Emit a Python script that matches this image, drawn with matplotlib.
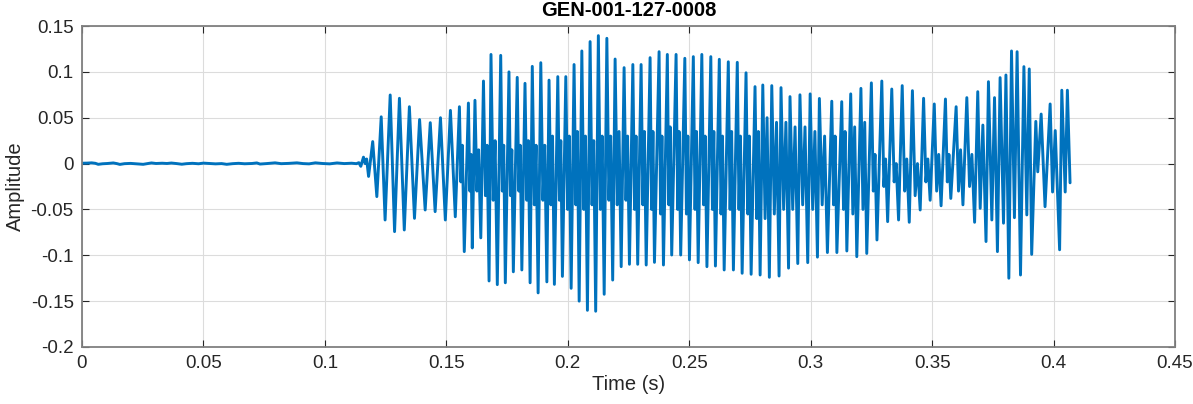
import numpy as np
import matplotlib
matplotlib.use("Agg")
import matplotlib.pyplot as plt

plt.rcParams['font.family'] = ['Liberation Sans', 'DejaVu Sans']
plt.rcParams['axes.unicode_minus'] = False

title = "GEN-001-127-0008"
xlabel = "Time (s)"
ylabel = "Amplitude"
xticks = [0, 0.05, 0.1, 0.15, 0.2, 0.25, 0.3, 0.35, 0.4, 0.45]
xticklabels = ["0", "0.05", "0.1", "0.15", "0.2", "0.25", "0.3", "0.35", "0.4", "0.45"]
yticks = [-0.2, -0.15, -0.1, -0.05, 0, 0.05, 0.1, 0.15]
yticklabels = ["-0.2", "-0.15", "-0.1", "-0.05", "0", "0.05", "0.1", "0.15"]

# silence / noise floor
noise_t = [0.000, 0.002, 0.004, 0.0055, 0.0067, 0.0085, 0.0105, 0.0129, 0.0145, 0.0156,
           0.0175, 0.0200, 0.0225, 0.0252, 0.0270, 0.0286, 0.0305, 0.0330, 0.0350, 0.0368,
           0.0390, 0.0411, 0.0430, 0.0455, 0.0480, 0.0500, 0.0525, 0.0550, 0.0575, 0.0596,
           0.0620, 0.0645, 0.0670, 0.0700, 0.0720, 0.0733, 0.0760, 0.0795, 0.0820, 0.0850,
           0.0885, 0.0910, 0.0935, 0.0961, 0.0990, 0.1020, 0.1050, 0.1080, 0.1110, 0.1130]
noise_v = [0.0004, 0.0005, 0.0008, 0.0003, -0.0008, -0.0002, 0.0001, 0.0007, -0.0001, -0.0009,
           -0.0001, 0.0002, -0.0003, -0.0008, 0.0000, 0.0007, 0.0001, 0.0004, 0.0001, 0.0006,
           0.0000, -0.0007, -0.0001, 0.0003, -0.0002, 0.0005, 0.0001, -0.0003, 0.0000, -0.0008,
           -0.0001, 0.0003, -0.0002, 0.0001, 0.0007, -0.0005, 0.0000, 0.0008, -0.0001, 0.0002,
           0.0008, 0.0000, -0.0003, 0.0008, 0.0001, -0.0003, 0.0007, 0.0000, 0.0004, -0.0001]

# voicing onset (roughly sinusoidal cycles)
onset_t = [0.1140, 0.1148, 0.1159, 0.1166, 0.1172, 0.1180, 0.1197, 0.1214, 0.1232, 0.1248,
           0.1269, 0.1287, 0.1307, 0.1327, 0.1348, 0.1369, 0.1390, 0.1413, 0.1434, 0.1454,
           0.1476, 0.1496, 0.1517, 0.1537, 0.1554, 0.1560, 0.1566, 0.1574, 0.1591, 0.1597,
           0.1602, 0.1607, 0.1618, 0.1626, 0.1633, 0.1642]
onset_v = [0.001, -0.003, 0.007, 0.000, 0.005, -0.014, 0.024, -0.036, 0.051, -0.0615,
           0.0748, -0.0742, 0.0712, -0.0724, 0.062, -0.0597, 0.048, -0.0506, 0.0446, -0.0524,
           0.050, -0.0615, 0.058, -0.058, 0.062, -0.020, 0.020, -0.096, 0.066, -0.030,
           0.010, -0.092, 0.069, -0.030, 0.015, -0.081]

# main voiced cycles: peak, local dip, local bump, trough
peak_t = [0.1653, 0.1684, 0.1724, 0.1758, 0.1792, 0.1824, 0.1854, 0.1889,
          0.1923, 0.1959, 0.1992, 0.2026, 0.2058, 0.2092, 0.2126, 0.2161, 0.2195, 0.2232, 0.2268, 0.2302,
          0.2339, 0.2376, 0.2410, 0.2446, 0.2482, 0.2517, 0.2552, 0.2589, 0.2624, 0.2661, 0.2698, 0.2734, 0.2771,
          0.2803, 0.2840, 0.2878, 0.2915, 0.2956, 0.2998, 0.3036, 0.3087, 0.3128, 0.3165, 0.3207,
          0.3250, 0.3293, 0.3334, 0.3377, 0.3419, 0.3465, 0.3509, 0.3555, 0.3599, 0.3643]
peak_v = [0.090, 0.119, 0.118, 0.100, 0.094, 0.0875, 0.106, 0.110,
          0.091, 0.0948, 0.0948, 0.108, 0.1228, 0.133, 0.1395, 0.1366, 0.114, 0.1046, 0.108, 0.108,
          0.1155, 0.122, 0.119, 0.119, 0.1148, 0.1166, 0.119, 0.1166, 0.1137, 0.111, 0.1104, 0.099, 0.0839,
          0.0857, 0.085, 0.0828, 0.073, 0.075, 0.076, 0.071, 0.068, 0.0675, 0.076, 0.082,
          0.088, 0.090, 0.0813, 0.085, 0.0795, 0.0712, 0.065, 0.0704, 0.062, 0.0719]
dip_v = [-0.035, -0.040, -0.030, -0.035, -0.030, -0.040, -0.045, -0.040,
         -0.045, -0.040, -0.050, -0.045, -0.050, -0.045, -0.050, -0.040, -0.045, -0.040, -0.050, -0.045,
         -0.050, -0.055, -0.045, -0.050, -0.055, -0.050, -0.045, -0.050, -0.055, -0.050, -0.050, -0.055, -0.060,
         -0.060, -0.055, -0.050, -0.050, -0.045, -0.050, -0.045, -0.045, -0.050, -0.055, -0.050,
         -0.030, -0.025, -0.020, -0.030, -0.035, -0.020, -0.030, -0.020, -0.030, -0.025]
bump_v = [0.020, 0.025, 0.020, 0.015, 0.020, 0.025, 0.020, 0.020,
          0.030, 0.025, 0.030, 0.035, 0.030, 0.025, 0.030, 0.030, 0.035, 0.030, 0.030, 0.035,
          0.035, 0.030, 0.040, 0.035, 0.030, 0.035, 0.030, 0.035, 0.030, 0.035, 0.030, 0.030, 0.035,
          0.050, 0.045, 0.045, 0.040, 0.040, 0.035, 0.030, 0.030, 0.035, 0.040, 0.045,
          0.010, 0.005, 0.000, 0.005, 0.000, 0.005, 0.010, 0.010, 0.015, 0.010]
trough_t = [0.1676, 0.1710, 0.1743, 0.1776, 0.1811, 0.1845, 0.1878, 0.1914,
            0.1945, 0.1978, 0.2014, 0.2047, 0.2081, 0.2115, 0.2150, 0.2185, 0.2220, 0.2254, 0.2288, 0.2323,
            0.2357, 0.2394, 0.2428, 0.2465, 0.2501, 0.2537, 0.2573, 0.2608, 0.2644, 0.2682, 0.2718, 0.2755, 0.2792,
            0.2830, 0.2870, 0.2909, 0.2947, 0.2988, 0.3028, 0.3069, 0.3108, 0.3149, 0.3190, 0.3231,
            0.3273, 0.3317, 0.3362, 0.3406, 0.3451, 0.3492, 0.3537, 0.3577, 0.3627, 0.3675]
trough_v = [-0.128, -0.132, -0.130, -0.118, -0.116, -0.130, -0.141, -0.129,
            -0.1317, -0.123, -0.136, -0.150, -0.160, -0.161, -0.1425, -0.127, -0.1124, -0.1098, -0.1098, -0.1106,
            -0.1077, -0.1106, -0.0997, -0.0997, -0.105, -0.108, -0.1124, -0.1117, -0.116, -0.116, -0.1196, -0.1207, -0.1215,
            -0.124, -0.1226, -0.114, -0.109, -0.108, -0.102, -0.097, -0.097, -0.0953, -0.1015, -0.098,
            -0.0833, -0.0633, -0.0615, -0.064, -0.0506, -0.040, -0.046, -0.038, -0.045, -0.064]

# final irregular part
tail_t = [0.3688, 0.3698, 0.3709, 0.3722, 0.3732, 0.3746, 0.3757, 0.3769, 0.3780, 0.3794,
          0.3804, 0.3816, 0.3827, 0.3839, 0.3850, 0.3864, 0.3878, 0.3890, 0.3900, 0.3910,
          0.3927, 0.3935, 0.3949, 0.3965, 0.3986, 0.3996, 0.4007, 0.4025, 0.4034, 0.4048,
          0.4057, 0.4068]
tail_v = [0.0784, -0.0488, 0.042, -0.085, 0.0893, -0.0615, 0.0719, -0.096, 0.0937, -0.065,
          0.0966, -0.125, 0.1228, -0.059, 0.122, -0.1215, 0.1057, -0.056, 0.1032, -0.099,
          0.046, -0.009, 0.054, -0.047, 0.065, -0.031, 0.036, -0.094, 0.080, -0.031,
          0.080, -0.021]

# assemble the trace
pt = np.array(peak_t); tt = np.array(trough_t)
gap = tt - pt
cyc_t = np.column_stack([pt, pt + 0.35 * gap, pt + 0.65 * gap, tt]).ravel()
cyc_v = np.column_stack([peak_v, dip_v, bump_v, trough_v]).ravel()
t = np.concatenate([noise_t, onset_t, cyc_t, tail_t])
v = np.concatenate([noise_v, onset_v, cyc_v, tail_v])

fig = plt.figure(figsize=(11.93, 4.04), dpi=100)
ax = fig.add_axes([0.0687, 0.1411, 0.9162, 0.7945])
ax.plot(t, v, color='#0072BD', linewidth=2.1, solid_joinstyle='round', solid_capstyle='round')

ax.set_xlim(0, 0.45)
ax.set_ylim(-0.2, 0.15)
ax.set_xticks(xticks)
ax.set_xticklabels(xticklabels)
ax.set_yticks(yticks)
ax.set_yticklabels(yticklabels)
ax.grid(True, color='#dcdcdc', linewidth=0.8)
ax.set_axisbelow(True)
ax.tick_params(direction='in', length=5, width=0.8, colors='#262626',
               labelsize=13.5, top=True, right=True, pad=6)
for s in ax.spines.values():
    s.set_color('#808080')
    s.set_linewidth(1.3)
ax.set_title(title, fontsize=14.5, fontweight='bold', color='#000000', pad=7)
ax.set_xlabel(xlabel, fontsize=14.5, color='#262626', labelpad=2)
ax.set_ylabel(ylabel, fontsize=14.5, color='#262626', labelpad=4)

fig.savefig('out.png', dpi=100)
